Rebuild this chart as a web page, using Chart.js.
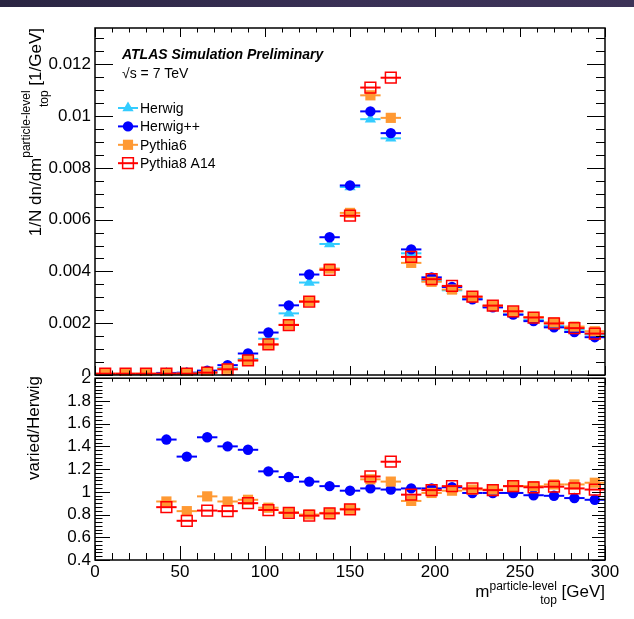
<!DOCTYPE html>
<html lang="en">
<head>
<meta charset="UTF-8">
<title>Top-quark mass at particle level</title>
<script src="https://cdn.jsdelivr.net/npm/chart.js@4"></script>
<style>
  body { margin: 0; background: #fff; font-family: "Liberation Sans", Arial, sans-serif; color: #000; }
  #page { position: relative; width: 634px; height: 619px; overflow: hidden; background: #fff; }
  #band { position: absolute; left: 0; top: 0; width: 634px; height: 7px;
          background: linear-gradient(90deg, #2a2542, #393055 55%, #3d3358); }
  .pad { position: absolute; left: 0; width: 634px; overflow: hidden; }
  .pad canvas { position: absolute; left: 0; }
  .title { position: absolute; white-space: nowrap; font-size: 17px; line-height: 20px; }
  .ytitle { transform-origin: 0 0; transform: rotate(-90deg); text-align: right; }
  .xtitle { text-align: right; }
  /* stacked superscript / subscript, ROOT style */
  .ss { display: inline-flex; flex-direction: column; vertical-align: middle;
        font-size: 12px; line-height: 12px; row-gap: 2px; }
  .ytitle .ss .up { position: relative; top: -4px; }
</style>
</head>
<body>
<div id="page">
  <div id="band"></div>
  <div class="pad" style="top:0; height:376px;">
    <canvas id="massChart" width="634" height="392" style="top:0"></canvas>
  </div>
  <div class="pad" style="top:376px; height:243px;">
    <canvas id="ratioChart" width="634" height="255" style="top:-12px"></canvas>
  </div>
  <div class="title ytitle" style="left:24px; top:376px; width:348px;">1/N dn/dm<span class="ss"><span class="up">particle-level</span><span>top</span></span> [1/GeV]</div>
  <div class="title ytitle" style="left:24px; top:560px; width:184px;">varied/Herwig</div>
  <div class="title xtitle" style="right:29px; top:580px;">m<span class="ss"><span class="up">particle-level</span><span>top</span></span> [GeV]</div>
</div>

<script>
    // bins of 12 GeV between 0 and 300 GeV
    const binCenters = [6, 18, 30, 42, 54, 66, 78, 90, 102, 114, 126, 138, 150,
                        162, 174, 186, 198, 210, 222, 234, 246, 258, 270, 282, 294];
    const binHalfWidth = 6;

    // normalised distributions, 1/N dn/dm [1/GeV]
    const herwig   = [null, null, null, 0.000055, 0.00007, 0.00011, 0.00027, 0.00062, 0.0014, 0.00238, 0.00357, 0.00506, 0.00726,
                      0.00988, 0.00914, 0.0047, 0.00364, 0.00327, 0.00294, 0.00264, 0.00234, 0.00213, 0.0019, 0.00175, 0.00156];
    const herwigPP = [null, null, null, 0.00008, 0.00009, 0.00017, 0.00038, 0.00083, 0.00164, 0.00269, 0.00388, 0.00532, 0.00732,
                      0.01018, 0.00934, 0.00485, 0.00377, 0.0034, 0.00292, 0.00261, 0.00233, 0.00208, 0.00184, 0.00166, 0.00146];
    const pythia6  = [0.00005, 0.00005, 0.00005, 0.00005, 0.00006, 0.0001, 0.00024, 0.00057, 0.00118, 0.00194, 0.00285, 0.00411, 0.00626,
                      0.0108, 0.00993, 0.00433, 0.0036, 0.0033, 0.00301, 0.00268, 0.00246, 0.00224, 0.00203, 0.00187, 0.00169];
    const pythia8  = [0.00005, 0.00005, 0.00005, 0.00005, 0.00005, 0.00009, 0.00022, 0.00056, 0.00118, 0.00193, 0.00283, 0.00406, 0.00615,
                      0.0111, 0.01148, 0.00456, 0.0037, 0.00344, 0.00303, 0.00268, 0.00246, 0.00222, 0.00199, 0.00181, 0.0016];

    // ratios to Herwig
    const ratioHerwigPP = [null, null, null, 1.46, 1.31, 1.48, 1.40, 1.37, 1.18, 1.13, 1.09, 1.05, 1.01,
                           1.03, 1.02, 1.03, 1.03, 1.04, 0.99, 0.99, 0.99, 0.97, 0.965, 0.945, 0.93];
    const ratioPythia6  = [null, null, null, 0.915, 0.83, 0.96, 0.915, 0.93, 0.86, 0.82, 0.80, 0.815, 0.85,
                           1.11, 1.09, 0.92, 0.99, 1.01, 1.02, 1.02, 1.05, 1.05, 1.065, 1.065, 1.08];
    const ratioPythia8  = [null, null, null, 0.865, 0.745, 0.835, 0.83, 0.90, 0.84, 0.815, 0.79, 0.81, 0.845,
                           1.135, 1.265, 0.975, 1.015, 1.05, 1.03, 1.015, 1.05, 1.04, 1.045, 1.03, 1.02];

    const FONT = '"Liberation Sans", Arial, sans-serif';
    Chart.defaults.font.family = FONT;
    Chart.defaults.color = '#000';

    const styles = {
        herwig:   { label: 'Herwig',       color: '#33ccff', shape: 'triangle', radius: 6.5 },
        herwigPP: { label: 'Herwig++',     color: '#0000ff', shape: 'circle',   radius: 5.2 },
        pythia6:  { label: 'Pythia6',      color: '#ff9933', shape: 'rect',     radius: 7.2 },
        pythia8:  { label: 'Pythia8 A14',  color: '#ff0000', shape: 'rect',     radius: 7.6, open: true }
    };

    function toPoints(values) {
        return binCenters.map((x, i) => ({ x: x, y: values[i] })).filter(p => p.y !== null);
    }

    // order: lower value is drawn later (on top)
    function series(st, values, order) {
        return {
            label: st.label,
            data: toPoints(values),
            order: order,
            showLine: false,
            clip: false,
            pointStyle: st.shape,
            pointRadius: st.radius,
            pointHoverRadius: st.radius,
            backgroundColor: st.open ? 'rgba(0,0,0,0)' : st.color,
            borderColor: st.color,
            borderWidth: st.open ? 1.5 : 0,
            errColor: st.color
        };
    }

    // horizontal bin-width bars, drawn just before each series' markers
    const binErrors = {
        id: 'binErrors',
        beforeDatasetDraw(chart, args) {
            const ds = chart.data.datasets[args.index];
            const xs = chart.scales.x;
            const ctx = chart.ctx;
            ctx.save();
            ctx.strokeStyle = ds.errColor;
            ctx.lineWidth = 2;
            args.meta.data.forEach((pt, i) => {
                const raw = ds.data[i];
                ctx.beginPath();
                ctx.moveTo(xs.getPixelForValue(raw.x - binHalfWidth), pt.y);
                ctx.lineTo(xs.getPixelForValue(raw.x + binHalfWidth), pt.y);
                ctx.stroke();
            });
            ctx.restore();
        }
    };

    // walk major/minor tick values of a scale
    function eachTick(scale, step, nSub, fn) {
        const minor = step / nSub;
        const k0 = Math.ceil(scale.min / minor - 1e-6);
        const k1 = Math.floor(scale.max / minor + 1e-6);
        for (let k = k0; k <= k1; k++) {
            fn(scale.getPixelForValue(k * minor), k % nSub === 0);
        }
    }

    // frame with inward ticks on all four sides
    const rootFrame = {
        id: 'rootFrame',
        afterDraw(chart, args, o) {
            const { ctx, chartArea: a, scales } = chart;
            ctx.save();
            ctx.strokeStyle = '#000';
            ctx.lineWidth = 1;
            const seg = (x0, y0, x1, y1) => { ctx.beginPath(); ctx.moveTo(x0, y0); ctx.lineTo(x1, y1); ctx.stroke(); };
            eachTick(scales.x, o.xStep, o.xSub, (px, major) => {
                const x = Math.round(px) + 0.5;
                seg(x, a.bottom, x, a.bottom - o.bottom[major ? 0 : 1]);
                seg(x, a.top, x, a.top + o.top[major ? 0 : 1]);
            });
            eachTick(scales.y, o.yStep, o.ySub, (py, major) => {
                const y = Math.round(py) + 0.5;
                seg(a.left, y, a.left + o.left[major ? 0 : 1], y);
                seg(a.right, y, a.right - o.right[major ? 0 : 1], y);
            });
            ctx.lineWidth = 1.5;
            ctx.strokeRect(a.left, a.top, a.right - a.left, a.bottom - a.top);
            ctx.restore();
        }
    };

    function drawMarker(ctx, ds, x, y) {
        ctx.fillStyle = ds.backgroundColor;
        ctx.strokeStyle = ds.borderColor;
        ctx.lineWidth = ds.borderWidth;
        if (Chart.helpers && Chart.helpers.drawPoint) {
            Chart.helpers.drawPoint(ctx, { pointStyle: ds.pointStyle, radius: ds.pointRadius,
                                           rotation: 0, borderWidth: ds.borderWidth }, x, y);
            return;
        }
        const r = ds.pointRadius;
        ctx.beginPath();
        if (ds.pointStyle === 'circle') {
            ctx.arc(x, y, r, 0, Math.PI * 2);
        } else if (ds.pointStyle === 'triangle') {
            ctx.moveTo(x, y - r);
            ctx.lineTo(x + r * 0.866, y + r / 2);
            ctx.lineTo(x - r * 0.866, y + r / 2);
            ctx.closePath();
        } else {
            const s = r * Math.SQRT1_2;
            ctx.rect(x - s, y - s, 2 * s, 2 * s);
        }
        ctx.fill();
        if (ds.borderWidth > 0) ctx.stroke();
    }

    // experiment label and legend inside the upper frame
    const atlasLegend = {
        id: 'atlasLegend',
        afterDraw(chart) {
            const { ctx, chartArea: a } = chart;
            ctx.save();
            ctx.fillStyle = '#000';
            ctx.textBaseline = 'alphabetic';
            ctx.font = 'italic bold 14px ' + FONT;
            ctx.fillText('ATLAS Simulation Preliminary', a.left + 27, a.top + 31);
            ctx.font = '14px ' + FONT;
            ctx.fillText('\u221As = 7 TeV', a.left + 27, a.top + 50);

            chart.data.datasets.forEach((ds, i) => {
                const y = a.top + 80 + i * 18.4;
                const mx = a.left + 33;
                ctx.strokeStyle = ds.errColor;
                ctx.lineWidth = 2;
                ctx.beginPath();
                ctx.moveTo(mx - 10, y);
                ctx.lineTo(mx + 10, y);
                ctx.stroke();
                drawMarker(ctx, ds, mx, y);
                ctx.fillStyle = '#000';
                ctx.font = '14px ' + FONT;
                ctx.fillText(ds.label, a.left + 45, y + 5);
            });
            ctx.restore();
        }
    };

    const trimLabel = v => String(parseFloat(Number(v).toFixed(4)));

    // upper panel: distributions
    new Chart(document.getElementById('massChart'), {
        type: 'scatter',
        data: {
            datasets: [
                series(styles.herwig, herwig, 4),
                series(styles.herwigPP, herwigPP, 3),
                series(styles.pythia6, pythia6, 2),
                series(styles.pythia8, pythia8, 1)
            ]
        },
        options: {
            responsive: false,
            animation: false,
            devicePixelRatio: 1,
            events: [],
            layout: { padding: { top: 28, right: 29, bottom: 17, left: 0 } },
            plugins: {
                legend: { display: false },
                tooltip: { enabled: false },
                rootFrame: { xStep: 50, xSub: 5, yStep: 0.002, ySub: 4,
                             bottom: [9, 4.5], top: [9, 4.5], left: [18, 9], right: [18, 9] }
            },
            scales: {
                x: { type: 'linear', min: 0, max: 300, display: false },
                y: {
                    type: 'linear', min: 0, max: 0.0134,
                    grid: { display: false, drawTicks: false },
                    border: { display: false },
                    ticks: { stepSize: 0.002, includeBounds: false, autoSkip: false, padding: 4,
                             font: { size: 17 }, color: '#000', callback: trimLabel },
                    afterFit: s => { s.width = 95; }
                }
            }
        },
        plugins: [binErrors, rootFrame, atlasLegend]
    });

    // lower panel: ratios to Herwig
    new Chart(document.getElementById('ratioChart'), {
        type: 'scatter',
        data: {
            datasets: [
                series(styles.herwigPP, ratioHerwigPP, 3),
                series(styles.pythia6, ratioPythia6, 2),
                series(styles.pythia8, ratioPythia8, 1)
            ]
        },
        options: {
            responsive: false,
            animation: false,
            devicePixelRatio: 1,
            events: [],
            layout: { padding: { top: 12, right: 29, bottom: 0, left: 0 } },
            plugins: {
                legend: { display: false },
                tooltip: { enabled: false },
                rootFrame: { xStep: 50, xSub: 5, yStep: 0.2, ySub: 6,
                             bottom: [14, 7], top: [7, 3.5], left: [15, 7.5], right: [13, 7] }
            },
            scales: {
                x: {
                    type: 'linear', min: 0, max: 300,
                    grid: { display: false, drawTicks: false },
                    border: { display: false },
                    ticks: { stepSize: 50, autoSkip: false, padding: 2, maxRotation: 0,
                             font: { size: 17 }, color: '#000' },
                    afterFit: s => { s.height = 59; }
                },
                y: {
                    type: 'linear', min: 0.4, max: 2.0,
                    grid: { display: false, drawTicks: false },
                    border: { display: false },
                    ticks: { stepSize: 0.2, autoSkip: false, padding: 4,
                             font: { size: 17 }, color: '#000', callback: trimLabel },
                    afterFit: s => { s.width = 95; }
                }
            }
        },
        plugins: [binErrors, rootFrame]
    });
</script>
</body>
</html>
